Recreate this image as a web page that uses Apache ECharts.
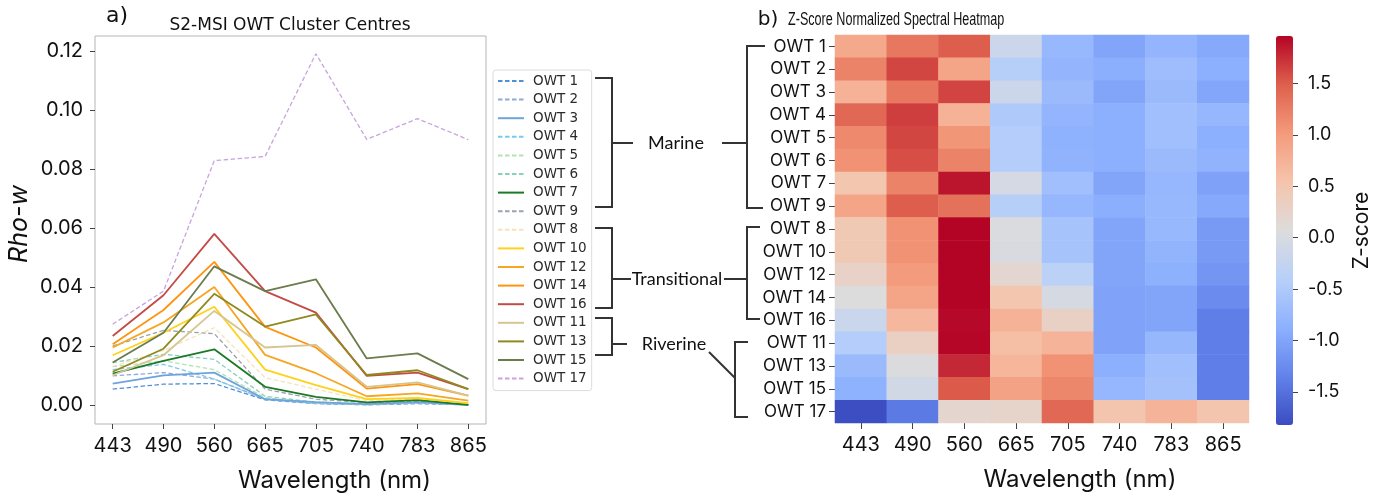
<!DOCTYPE html>
<html>
<head>
<meta charset="utf-8">
<script src="https://cdn.jsdelivr.net/npm/echarts@6/dist/echarts.min.js"></script>
<style>
html,body{margin:0;padding:0;background:#fff;}
#chart{width:1387px;height:498px;}
</style>
</head>
<body>
<div id="chart"></div>
<script>
// ---- data ----
const wavelengths = ['443','490','560','665','705','740','783','865'];
const owtNames = ['OWT 1','OWT 2','OWT 3','OWT 4','OWT 5','OWT 6','OWT 7','OWT 9','OWT 8','OWT 10','OWT 12','OWT 14','OWT 16','OWT 11','OWT 13','OWT 15','OWT 17'];
const yTicks = [0, 0.02, 0.04, 0.06, 0.08, 0.10, 0.12];
const zTicks = [-1.5, -1.0, -0.5, 0.0, 0.5, 1.0, 1.5];

// Rho-w cluster centres
const owt1  = [0.0054,0.0071,0.0073,0.0018,0.0005,0.0001,0.0005,0.0001];
const owt2  = [0.0099,0.0110,0.0088,0.0020,0.0006,0.0002,0.0007,0.0001];
const owt3  = [0.0073,0.0101,0.0110,0.0020,0.0010,0.0003,0.0010,0.0001];
const owt4  = [0.0120,0.0138,0.0088,0.0020,0.0006,0.0002,0.0008,0.0001];
const owt5  = [0.0130,0.0150,0.0120,0.0025,0.0008,0.0002,0.0008,0.0001];
const owt6  = [0.0144,0.0172,0.0155,0.0030,0.0010,0.0003,0.0010,0.0002];
const owt7  = [0.0107,0.0150,0.0189,0.0062,0.0028,0.0009,0.0017,0.0001];
const owt9  = [0.0200,0.0253,0.0242,0.0054,0.0020,0.0008,0.0013,0.0003];
const owt8  = [0.0131,0.0185,0.0262,0.0093,0.0054,0.0015,0.0020,0.0007];
const owt10 = [0.0169,0.0245,0.0333,0.0120,0.0068,0.0020,0.0024,0.0007];
const owt12 = [0.0195,0.0280,0.0400,0.0170,0.0108,0.0030,0.0040,0.0015];
const owt14 = [0.0206,0.0322,0.0485,0.0265,0.0195,0.0056,0.0071,0.0032];
const owt16 = [0.0234,0.0372,0.0580,0.0386,0.0313,0.0099,0.0110,0.0054];
const owt11 = [0.0101,0.0169,0.0319,0.0195,0.0204,0.0062,0.0077,0.0032];
const owt13 = [0.0113,0.0191,0.0377,0.0266,0.0307,0.0102,0.0118,0.0054];
const owt15 = [0.0144,0.0245,0.0470,0.0386,0.0426,0.0158,0.0175,0.0088];
const owt17 = [0.0274,0.0386,0.0828,0.0842,0.1190,0.0900,0.0970,0.0899];

// Z-score rows (same order as owtNames)
const z1  = [0.85,1.30,1.50,-0.15,-0.75,-1.00,-0.80,-0.95];
const z2  = [1.20,1.62,0.90,-0.42,-0.80,-0.90,-0.68,-0.87];
const z3  = [0.75,1.30,1.63,-0.15,-0.72,-1.00,-0.72,-0.98];
const z4  = [1.42,1.66,0.75,-0.50,-0.80,-0.88,-0.66,-0.78];
const z5  = [1.15,1.62,1.05,-0.45,-0.85,-0.87,-0.66,-0.87];
const z6  = [1.08,1.58,1.20,-0.45,-0.83,-0.87,-0.72,-0.83];
const z7  = [0.50,1.20,1.88,-0.05,-0.65,-1.00,-0.78,-1.03];
const z9  = [0.90,1.50,1.35,-0.42,-0.78,-0.90,-0.76,-0.95];
const z8  = [0.45,1.08,1.96,0.02,-0.60,-1.00,-0.76,-1.10];
const z10 = [0.45,1.08,1.96,0.00,-0.60,-1.00,-0.82,-1.10];
const z12 = [0.28,1.00,1.96,0.18,-0.35,-1.00,-0.86,-1.15];
const z14 = [0.07,0.90,1.96,0.50,-0.03,-1.02,-1.00,-1.25];
const z16 = [-0.18,0.68,1.94,0.75,0.30,-1.02,-1.00,-1.38];
const z11 = [-0.45,0.32,1.95,0.60,0.72,-1.02,-0.77,-1.38];
const z13 = [-0.72,0.05,1.78,0.70,1.08,-0.87,-0.65,-1.38];
const z15 = [-0.85,-0.08,1.52,0.92,1.17,-0.78,-0.62,-1.38];
const z17 = [-1.80,-1.42,0.20,0.25,1.42,0.52,0.72,0.52];
const zMin = -1.82, zMax = 1.96;

// ---- styling ----
const lineRows = [owt1,owt2,owt3,owt4,owt5,owt6,owt7,owt9,owt8,owt10,owt12,owt14,owt16,owt11,owt13,owt15,owt17];
const zRows = [z1,z2,z3,z4,z5,z6,z7,z9,z8,z10,z12,z14,z16,z11,z13,z15,z17];
const lineColors = ['#4f8fd8','#8eaad6','#6fa3dc','#7cc8ea','#b3e3b0','#89cfc0','#1b7a25','#9aa2aa','#f5e3bd','#ffd11a','#f5a623','#ff9410','#c44a46','#d6c590','#8f8a1f','#6b7b4c','#c9a3e0'];
const lineDashed = [true,true,false,true,true,true,false,true,true,false,false,false,false,false,false,false,true];
const coolwarm = ['#3b4cc0','#6282ea','#8db0fe','#b8d0f9','#dddcdc','#f5c4ac','#f49a7b','#de604d','#b40426'];

const txt = '#111';
const tickFont = 'Inter, "Liberation Sans", sans-serif';

const lineSeries = owtNames.map((name, k) => ({
  name: name,
  type: 'line',
  xAxisIndex: 0, yAxisIndex: 0,
  symbol: 'none',
  animation: false,
  z: lineDashed[k] ? 2 : 3,
  lineStyle: {
    color: lineColors[k],
    width: lineDashed[k] ? 1.3 : 1.8,
    type: lineDashed[k] ? [4.5, 2.5] : 'solid'
  },
  itemStyle: { color: lineColors[k] },
  data: lineRows[k].map((v, i) => [i, v])
}));

const heatData = [];
zRows.forEach((row, r) => row.forEach((v, c) => heatData.push([c, r, v])));

const bracket = (pts) => ({ type: 'polyline', silent: true, shape: { points: pts }, style: { stroke: '#333', lineWidth: 2, fill: null } });
const label = (x, y, t, size, extra) => ({ type: 'text', silent: true, x: x, y: y, style: Object.assign({ text: t, fill: txt, font: size + 'px Lato, "Noto Sans", sans-serif', align: 'center', verticalAlign: 'middle' }, extra || {}) });

const chart = echarts.init(document.getElementById('chart'), null, { renderer: 'canvas' });
chart.setOption({
  animation: false,
  backgroundColor: '#fff',
  grid: [
    { left: 95, top: 36, width: 391, height: 389, show: true, borderColor: '#b5b5b5', borderWidth: 1, backgroundColor: 'transparent' },
    { left: 835, top: 35, width: 414, height: 388 },
    { left: 1276, top: 36, width: 17, height: 389 }
  ],
  xAxis: [
    { gridIndex: 0, type: 'value', min: -0.348, max: 7.348,
      axisLine: { show: false, onZero: false }, splitLine: { show: false },
      axisTick: { show: true, length: 5, lineStyle: { color: '#444' }, customValues: [0,1,2,3,4,5,6,7] },
      axisLabel: { customValues: [0,1,2,3,4,5,6,7], formatter: v => wavelengths[Math.round(v)], color: txt, fontSize: 20, fontFamily: tickFont, margin: 12 },
      name: 'Wavelength (nm)', nameLocation: 'middle', nameGap: 45,
      nameTextStyle: { color: txt, fontSize: 24, fontFamily: tickFont, padding: [0, 0, 0, 88] } },
    { gridIndex: 1, type: 'category', data: wavelengths,
      axisLine: { show: false }, splitLine: { show: false },
      axisTick: { show: true, alignWithLabel: true, length: 6, lineStyle: { color: '#444' } },
      axisLabel: { color: txt, fontSize: 20, fontFamily: tickFont, margin: 12 },
      name: 'Wavelength (nm)', nameLocation: 'middle', nameGap: 45,
      nameTextStyle: { color: txt, fontSize: 24, fontFamily: tickFont, padding: [0, 0, 0, 76] } },
    { gridIndex: 2, type: 'value', show: false, min: 0, max: 1 }
  ],
  yAxis: [
    { gridIndex: 0, type: 'value', min: -0.0064, max: 0.125,
      axisLine: { show: false, onZero: false }, splitLine: { show: false },
      axisTick: { show: true, length: 5, lineStyle: { color: '#444' }, customValues: yTicks },
      axisLabel: { customValues: yTicks, formatter: v => v.toFixed(2), color: txt, fontSize: 20, fontFamily: tickFont, margin: 12 } },
    { gridIndex: 1, type: 'category', data: owtNames, inverse: true,
      axisLine: { show: false }, splitLine: { show: false },
      axisTick: { show: true, alignWithLabel: true, length: 6, lineStyle: { color: '#444' } },
      axisLabel: { color: txt, fontSize: 17, fontFamily: tickFont, margin: 9 } },
    { gridIndex: 2, type: 'value', position: 'right', min: zMin, max: zMax,
      axisLine: { show: false, onZero: false }, splitLine: { show: false },
      axisTick: { show: true, length: 5, lineStyle: { color: '#444' }, customValues: zTicks },
      axisLabel: { customValues: zTicks, formatter: v => v.toFixed(1), color: txt, fontSize: 18, fontFamily: tickFont, margin: 15 },
      name: 'Z-score', nameLocation: 'middle', nameGap: 58, nameRotate: 90,
      nameTextStyle: { color: txt, fontSize: 21, fontFamily: tickFont } }
  ],
  legend: {
    orient: 'vertical', left: 493, top: 70,
    padding: [4, 5, 5, 4],
    itemWidth: 26, itemHeight: 14, itemGap: 4.6,
    backgroundColor: '#fff', borderColor: '#dcdcdc', borderWidth: 1, borderRadius: 3,
    itemStyle: { opacity: 0 },
    textStyle: { color: '#2a2a2a', fontSize: 13.5, fontFamily: '"DejaVu Sans", sans-serif', padding: [0, 0, 0, 4] },
    data: owtNames
  },
  visualMap: {
    type: 'continuous', seriesIndex: 17, min: zMin, max: zMax,
    calculable: false, show: true, left: 1276, top: 36, padding: 0,
    itemWidth: 17, itemHeight: 389, text: null, showLabel: false,
    inRange: { color: coolwarm }
  },
  series: lineSeries.concat([{
    type: 'heatmap', xAxisIndex: 1, yAxisIndex: 1, data: heatData,
    itemStyle: { borderWidth: 0 }, emphasis: { disabled: true }
  }]),
  graphic: [
    label(117, 16, 'a)', 22, { font: '22px "DejaVu Sans", sans-serif' }),
    label(290, 26, 'S2-MSI OWT Cluster Centres', 17, { font: '17px "DejaVu Sans", sans-serif' }),
    label(768, 20, 'b)', 20, { font: '20px "DejaVu Sans", sans-serif' }),
    { type: 'text', silent: true, x: 788, y: 20, scaleX: 0.72, scaleY: 1,
      style: { text: 'Z-Score Normalized Spectral Heatmap', fill: txt, font: '17.5px "Liberation Sans", sans-serif', align: 'left', verticalAlign: 'middle' } },
    { type: 'text', silent: true, x: 19, y: 224, rotation: Math.PI / 2,
      style: { text: 'Rho-w', fill: txt, font: 'italic 25px Inter, "Liberation Sans", sans-serif', align: 'center', verticalAlign: 'middle' } },
    // Marine
    bracket([[595,78],[612,78],[612,207],[595,207]]),
    bracket([[612,143],[633,143]]),
    label(676, 143, 'Marine', 18),
    bracket([[722,143],[747,143]]),
    bracket([[765,46],[747,46],[747,208],[763,208]]),
    // Transitional
    bracket([[595,228],[612,228],[612,308],[595,308]]),
    bracket([[612,279],[631,279]]),
    label(677, 279, 'Transitional', 18),
    bracket([[724,279],[747,279]]),
    bracket([[760,227],[747,227],[747,319],[760,319]]),
    // Riverine
    bracket([[595,318],[612,318],[612,355],[595,355]]),
    bracket([[612,344],[627,344]]),
    label(674, 344, 'Riverine', 18),
    bracket([[709,352],[735,378]]),
    bracket([[748,342],[735,342],[735,417],[748,417]])
  ]
});
</script>
</body>
</html>
